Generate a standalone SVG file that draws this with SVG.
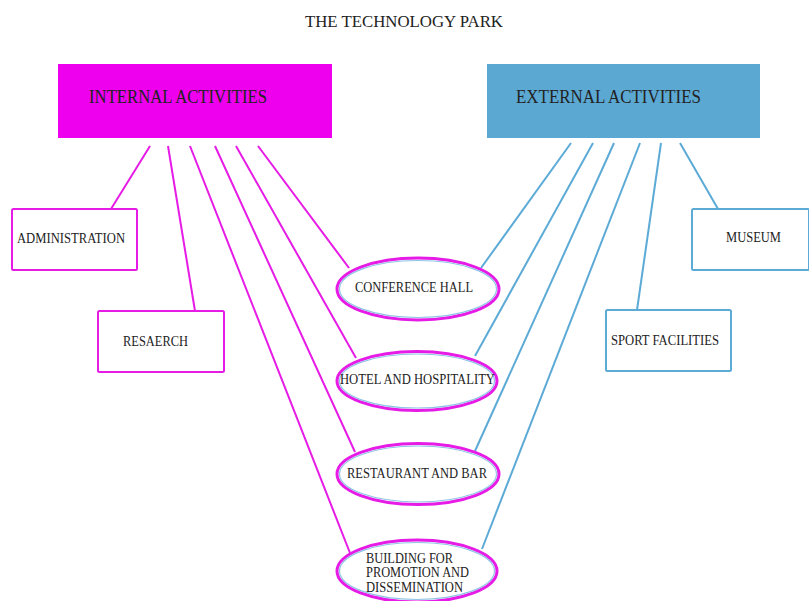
<svg xmlns="http://www.w3.org/2000/svg" width="809" height="601" viewBox="0 0 809 601">
<style>
text{font-family:"Liberation Serif","Times New Roman",serif;fill:#222}
.ib{fill:#fff;stroke:#E61BE6;stroke-width:2}
.eb{fill:#fff;stroke:#5CAAD6;stroke-width:2}
.il{stroke:#E61BE6;stroke-width:2;fill:none}
.el{stroke:#5CAAD6;stroke-width:2;fill:none}
.eo{fill:#fff;stroke:#E61BE6;stroke-width:3}
.ei{fill:none;stroke:#8FC4E6;stroke-width:1.2}
.s{font-size:14px}
.h{font-size:19px}
</style>
<rect width="809" height="601" fill="#fff"/>
<text x="404" y="27" text-anchor="middle" font-size="16.5" textLength="198" lengthAdjust="spacingAndGlyphs">THE TECHNOLOGY PARK</text>
<g id="connectors">
<line class="il" x1="150" y1="146" x2="111" y2="209"/>
<line class="il" x1="168" y1="146" x2="195" y2="311"/>
<line class="il" x1="190" y1="146" x2="350" y2="553"/>
<line class="il" x1="215" y1="146" x2="355" y2="452"/>
<line class="il" x1="236" y1="146" x2="356" y2="358"/>
<line class="il" x1="258" y1="146" x2="349" y2="268"/>
<line class="el" x1="571" y1="143" x2="481" y2="268"/>
<line class="el" x1="593" y1="143" x2="475" y2="356"/>
<line class="el" x1="614" y1="143" x2="475" y2="451"/>
<line class="el" x1="640" y1="143" x2="482" y2="549"/>
<line class="el" x1="661" y1="143" x2="637" y2="310"/>
<line class="el" x1="680" y1="143" x2="718" y2="209"/>
</g>
<g id="internal">
<rect x="58" y="64" width="274" height="74" fill="#EE00EE"/>
<text class="h" x="89" y="103" textLength="178" lengthAdjust="spacingAndGlyphs" fill="#300030">INTERNAL ACTIVITIES</text>
</g>
<g id="external">
<rect x="487" y="64" width="273" height="74" fill="#5BA9D3"/>
<text class="h" x="516" y="103" textLength="185" lengthAdjust="spacingAndGlyphs" fill="#0E2233">EXTERNAL ACTIVITIES</text>
</g>
<g id="administration">
<rect class="ib" x="12" y="209" width="125" height="61" rx="1.5"/>
<text class="s" x="17" y="243" textLength="108" lengthAdjust="spacingAndGlyphs">ADMINISTRATION</text>
</g>
<g id="research">
<rect class="ib" x="98" y="311" width="126" height="61" rx="1.5"/>
<text class="s" x="123" y="346" textLength="65" lengthAdjust="spacingAndGlyphs">RESAERCH</text>
</g>
<g id="museum">
<rect class="eb" x="692" y="209" width="117" height="61" rx="1.5"/>
<text class="s" x="726" y="242" textLength="55" lengthAdjust="spacingAndGlyphs">MUSEUM</text>
</g>
<g id="sport">
<rect class="eb" x="606" y="310" width="125" height="61" rx="1.5"/>
<text class="s" x="611" y="345" textLength="108" lengthAdjust="spacingAndGlyphs">SPORT FACILITIES</text>
</g>
<g id="conference">
<ellipse class="eo" cx="418" cy="289" rx="81" ry="31"/>
<ellipse class="ei" cx="418" cy="289" rx="78.5" ry="28.5"/>
<text class="s" x="355" y="292" textLength="118" lengthAdjust="spacingAndGlyphs">CONFERENCE HALL</text>
</g>
<g id="hotel">
<ellipse class="eo" cx="417" cy="381" rx="80" ry="29.5"/>
<ellipse class="ei" cx="417" cy="381" rx="77.5" ry="27"/>
<text class="s" x="340" y="384" textLength="155" lengthAdjust="spacingAndGlyphs">HOTEL AND HOSPITALITY</text>
</g>
<g id="restaurant">
<ellipse class="eo" cx="418" cy="474" rx="81" ry="30.5"/>
<ellipse class="ei" cx="418" cy="474" rx="78.5" ry="28"/>
<text class="s" x="347" y="478" textLength="140" lengthAdjust="spacingAndGlyphs">RESTAURANT AND BAR</text>
</g>
<g id="building">
<ellipse class="eo" cx="417" cy="571" rx="80" ry="31"/>
<ellipse class="ei" cx="417" cy="571" rx="77.5" ry="28.5"/>
<text class="s" x="366" y="563" textLength="87" lengthAdjust="spacingAndGlyphs">BUILDING FOR</text>
<text class="s" x="366" y="577" textLength="103" lengthAdjust="spacingAndGlyphs">PROMOTION AND</text>
<text class="s" x="366" y="592" textLength="97" lengthAdjust="spacingAndGlyphs">DISSEMINATION</text>
</g>
</svg>
